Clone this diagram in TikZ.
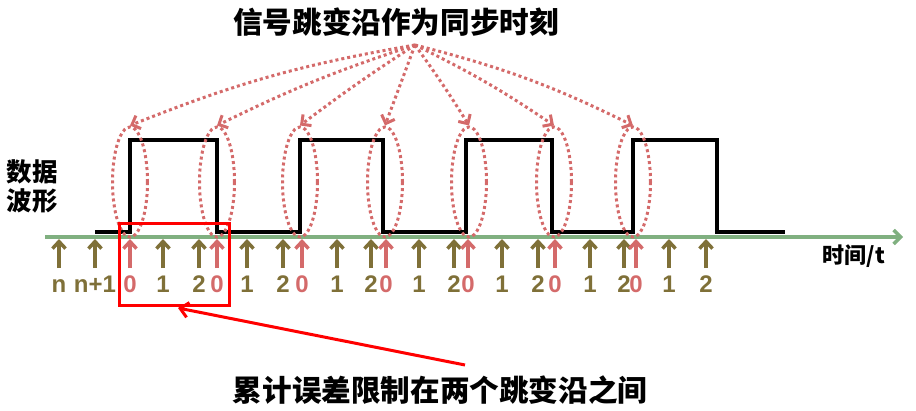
\documentclass[tikz,border=0pt]{standalone}
\usepackage{fontspec}
\setmainfont{Liberation Sans}
\newfontfamily\cjk{Noto Sans CJK SC}
\usetikzlibrary{arrows.meta,shapes.geometric}
\definecolor{tickolive}{HTML}{7F7038}
\definecolor{edgered}{HTML}{D46A6A}
\definecolor{axisgreen}{HTML}{80B080}

\begin{document}
\begin{tikzpicture}[x=1pt, y=-1pt,
    wave/.style={line width=4pt, line join=miter},
    timeaxis/.style={draw=axisgreen, line width=3.5pt, -{Straight Barb[length=7pt,width=14pt]}},
    ctick/.style={draw=tickolive, line width=3.5pt, -{Straight Barb[length=7pt,width=13pt]}},
    etick/.style={ctick, draw=edgered},
    clbl/.style={text=tickolive, font=\fontsize{24}{24}\selectfont\bfseries, inner sep=0pt, anchor=base},
    elbl/.style={clbl, text=edgered},
    ring/.style={draw=edgered, ellipse, line width=3pt, dash pattern=on 3pt off 3pt,
      minimum width=35pt, minimum height=110pt, inner sep=0pt},
    sync/.style={draw=edgered, line width=3pt, dash pattern=on 3pt off 3pt,
      -{Straight Barb[length=7pt,width=14pt]}},
    cjktext/.style={font=\cjk\fontsize{29.6}{32}\selectfont\bfseries, inner sep=0pt},
    pointer/.style={draw=red, line width=3pt, -{Straight Barb[length=8pt,width=15pt]}}]
  \useasboundingbox (0,0) rectangle (916,410);

  % titles
  \node[cjktext] (title) at (396,22) {信号跳变沿作为同步时刻};
  \node[cjktext, font=\cjk\fontsize{25.5}{29}\selectfont\bfseries, align=center] (ylabel) at (32,186) {数据\\波形};
  \node[cjktext, font=\cjk\fontsize{22}{24}\selectfont\bfseries] (tlabel) at (854,256) {时间/t};
  \coordinate (hub) at (415,45);

  % time axis and data waveform
  \coordinate (a0) at (45,237);
  \coordinate (a1) at (903,237);
  \draw[timeaxis] (a0) -- (a1);
  \draw[wave] (95,232) -| (130,140) -| (217,232) -| (300,140) -| (383,232)
    -| (466,140) -| (552,232) -| (633,140) -| (717,232) -- (785,232);

  % clock ticks
  \foreach \x/\t in {59/n, 95/n+1, 163/1, 199/2, 247/1, 283/2, 337/1, 371/2,
      419/1, 454/2, 502/1, 538/2, 590/1, 624/2, 669/1, 706/2} {
    \coordinate (cb\x) at (\x,268);
    \coordinate (ct\x) at (\x,239);
    \draw[ctick] (cb\x) -- (ct\x);
    \node[clbl] (cl\x) at (\x,292) {\t};
  }
  \foreach \x in {130,217,302,386,468,555,636} {
    \coordinate (eb\x) at (\x,268);
    \coordinate (et\x) at (\x,239);
    \draw[etick] (eb\x) -- (et\x);
    \node[elbl] (el\x) at (\x,292) {0};
  }

  % edges taken as sync points
  \foreach \x/\b [count=\i] in {130/6, 217/4, 300/2, 385/0, 469/-2, 554/-4, 633/-6} {
    \node[ring] (r\i) at (\x,182) {};
    \draw[sync] (hub) to[bend right=\b] (r\i.north);
  }

  % error window
  \node[draw=red, line width=3pt, minimum width=110pt, minimum height=82pt, inner sep=0pt] (win) at (174,264) {};
  \node[cjktext] (note) at (440,390) {累计误差限制在两个跳变沿之间};
  \coordinate (tail) at (465,365);
  \coordinate (tip) at (178,308);
  \draw[pointer] (tail) -- (tip);
\end{tikzpicture}
\end{document}
